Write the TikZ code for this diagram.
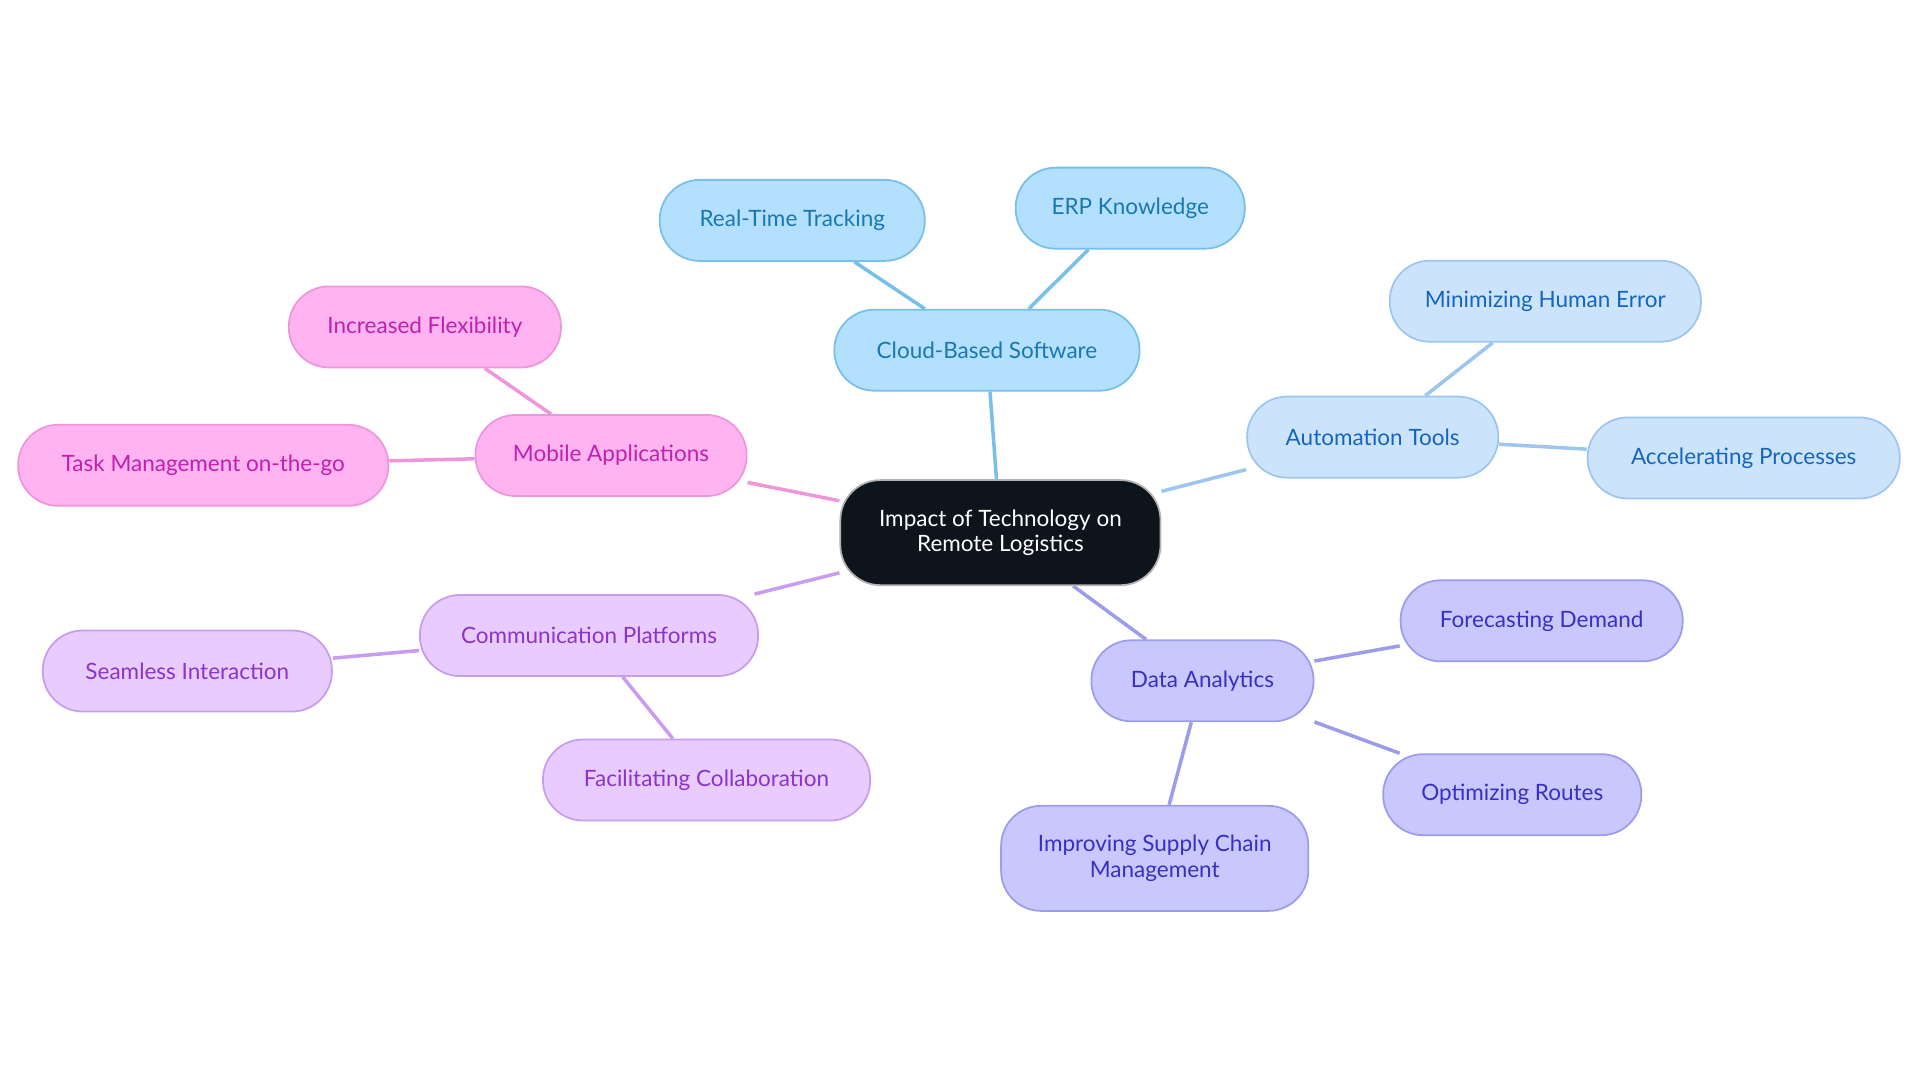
\documentclass[tikz,border=0pt]{standalone}
\usepackage{fontspec}
\setmainfont{Lato}
\usetikzlibrary{backgrounds}
\definecolor{cloudfill}{HTML}{B3E0FF}\definecolor{cloudtext}{HTML}{1A78B0}\definecolor{cloudline}{HTML}{78BFEA}
\definecolor{autofill}{HTML}{CCE4FB}\definecolor{autotext}{HTML}{1565C0}\definecolor{autoline}{HTML}{9CC6F0}
\definecolor{datafill}{HTML}{C8C8FF}\definecolor{datatext}{HTML}{3A2FC0}\definecolor{dataline}{HTML}{9C9CEA}
\definecolor{commfill}{HTML}{E8CCFF}\definecolor{commtext}{HTML}{8A35C8}\definecolor{commline}{HTML}{C89CEE}
\definecolor{mobfill}{HTML}{FFB3F0}\definecolor{mobtext}{HTML}{C020B0}\definecolor{mobline}{HTML}{EE96DC}
\definecolor{rootfill}{HTML}{0D141C}
\begin{document}
\begin{tikzpicture}[x=0.012245cm, y=-0.012245cm,
    topic/.style={rounded corners=0.4cm, minimum height=0.81cm, inner sep=2pt,
        align=center, font=\fontsize{6.4pt}{7.2pt}\selectfont, line width=0.5pt},
    cloudbox/.style={topic, fill=cloudfill, draw=cloudline, text=cloudtext},
    autobox/.style={topic, fill=autofill, draw=autoline, text=autotext},
    databox/.style={topic, fill=datafill, draw=dataline, text=datatext},
    commbox/.style={topic, fill=commfill, draw=commline, text=commtext},
    mobbox/.style={topic, fill=mobfill, draw=mobline, text=mobtext},
    link/.style={line width=1pt}]
    \useasboundingbox (0,0) rectangle (1568,884.5);

    % Central topic
    \node[topic, fill=rootfill, draw=gray!60, text=white, minimum width=3.2cm, minimum height=1.05cm] (root) at (817,435) {Impact of Technology on\\Remote Logistics};

    % Cloud branch
    \node[cloudbox, minimum width=3.05cm] (cloud) at (806,286) {Cloud-Based Software};
    \node[cloudbox, minimum width=2.65cm] (track) at (647,180) {Real-Time Tracking};
    \node[cloudbox, minimum width=2.29cm] (erp) at (923,170) {ERP Knowledge};

    % Automation branch
    \node[autobox, minimum width=2.51cm] (autom) at (1121,357) {Automation Tools};
    \node[autobox, minimum width=3.11cm] (human) at (1262,246) {Minimizing Human Error};
    \node[autobox, minimum width=3.12cm] (accel) at (1424,374) {Accelerating Processes};

    % Data branch
    \node[databox, minimum width=2.22cm] (analytics) at (982,556) {Data Analytics};
    \node[databox, minimum width=2.82cm] (forecast) at (1259,507) {Forecasting Demand};
    \node[databox, minimum width=2.58cm] (routes) at (1235,649) {Optimizing Routes};
    \node[databox, minimum width=3.07cm, minimum height=1.05cm] (supply) at (943,701) {Improving Supply Chain\\Management};

    % Communication branch
    \node[commbox, minimum width=3.38cm] (commun) at (481,519) {Communication Platforms};
    \node[commbox, minimum width=2.89cm] (seam) at (153,548) {Seamless Interaction};
    \node[commbox, minimum width=3.27cm] (collab) at (577,637) {Facilitating Collaboration};

    % Mobile branch
    \node[mobbox, minimum width=2.71cm] (mobile) at (499,372) {Mobile Applications};
    \node[mobbox, minimum width=2.72cm] (flex) at (347,267) {Increased Flexibility};
    \node[mobbox, minimum width=3.70cm] (task) at (166,380) {Task Management on-the-go};

    % Connectors
    \begin{pgfonlayer}{background}
        \draw[link, cloudline] (root) -- (cloud) (cloud) -- (track) (cloud) -- (erp);
        \draw[link, autoline] (root) -- (autom) (autom) -- (human) (autom) -- (accel);
        \draw[link, dataline] (root) -- (analytics) (analytics) -- (forecast) (analytics) -- (routes) (analytics) -- (supply);
        \draw[link, commline] (root) -- (commun) (commun) -- (seam) (commun) -- (collab);
        \draw[link, mobline] (root) -- (mobile) (mobile) -- (flex) (mobile) -- (task);
    \end{pgfonlayer}
\end{tikzpicture}
\end{document}
